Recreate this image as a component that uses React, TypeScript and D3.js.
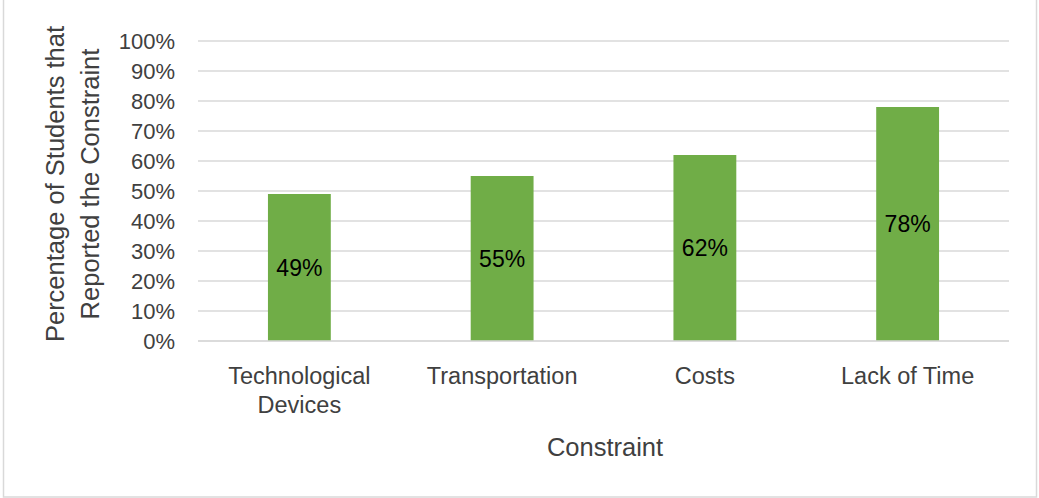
import React from "react";
import * as d3 from "d3";

const categories = ["Technological Devices", "Transportation", "Costs", "Lack of Time"];
const categoryLines = [["Technological", "Devices"], ["Transportation"], ["Costs"], ["Lack of Time"]];
const values = [49, 55, 62, 78];
const yTicks = [0, 10, 20, 30, 40, 50, 60, 70, 80, 90, 100];
const yTitleLines = ["Percentage of Students that", "Reported the Constraint"];
const xTitle = "Constraint";

const W = 1039;
const H = 498;
const FONT = "'Liberation Sans', Arial, sans-serif";

export default function App() {
  const x = d3.scaleBand<string>().domain(categories).range([198, 1009]).paddingInner(0.69).paddingOuter(0.345);
  const y = d3.scaleLinear().domain([0, 100]).range([341, 41]);
  const textColor = "#404040";
  return (
    <svg width={W} height={H} style={{ position: "absolute", left: 0, top: 0, background: "#fff" }} fontFamily={FONT}>
      <rect x={3.5} y={-2} width={1033} height={499} fill="#fff" stroke="#D9D9D9" strokeWidth={1.5} />
      {yTicks.map((t) => (
        <g key={t}>
          <line x1={198} x2={1009} y1={y(t)} y2={y(t)} stroke="#D9D9D9" strokeWidth={1.5} />
          <text x={175} y={y(t)} dy="0.36em" textAnchor="end" fontSize={22} fill={textColor}>
            {t}%
          </text>
        </g>
      ))}
      {categories.map((c, i) => (
        <g key={c}>
          <rect x={x(c)} y={y(values[i])} width={x.bandwidth()} height={y(0) - y(values[i])} fill="#70AD47" />
          <text
            x={(x(c) as number) + x.bandwidth() / 2}
            y={(y(values[i]) + y(0)) / 2}
            dy="0.36em"
            textAnchor="middle"
            fontSize={23}
            fill="#000"
          >
            {values[i]}%
          </text>
          {categoryLines[i].map((l, j) => (
            <text
              key={j}
              x={(x(c) as number) + x.bandwidth() / 2}
              y={384 + j * 29}
              textAnchor="middle"
              fontSize={23.5}
              fill={textColor}
            >
              {l}
            </text>
          ))}
        </g>
      ))}
      <line x1={198} x2={1009} y1={y(0)} y2={y(0)} stroke="#D9D9D9" strokeWidth={1.5} />
      <text x={605} y={456} textAnchor="middle" fontSize={25.5} fill={textColor}>
        {xTitle}
      </text>
      {yTitleLines.map((l, i) => (
        <text
          key={i}
          transform={`translate(${64 + i * 35},${184}) rotate(-90)`}
          textAnchor="middle"
          fontSize={25.5}
          fill={textColor}
        >
          {l}
        </text>
      ))}
    </svg>
  );
}
